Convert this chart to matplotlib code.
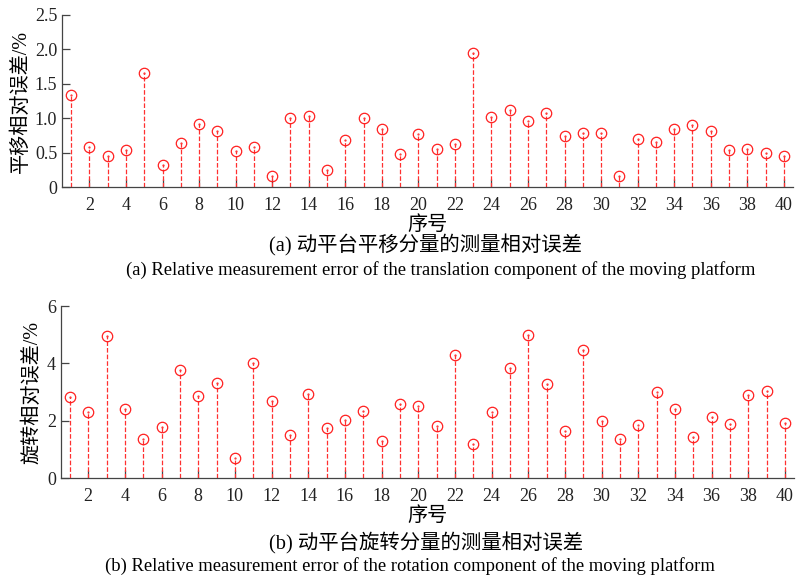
import matplotlib
matplotlib.use("Agg")
import matplotlib.pyplot as plt
import numpy as np

idx = list(range(1, 41))
trans_err = [1.33, 0.59, 0.45, 0.54, 1.65, 0.33, 0.64, 0.91, 0.82, 0.52,
             0.58, 0.17, 1.01, 1.04, 0.25, 0.69, 1.00, 0.84, 0.48, 0.77,
             0.555, 0.63, 1.94, 1.02, 1.12, 0.96, 1.08, 0.75, 0.78, 0.78,
             0.16, 0.70, 0.66, 0.84, 0.90, 0.82, 0.545, 0.56, 0.50, 0.45]
rot_err = [2.82, 2.32, 4.94, 2.42, 1.38, 1.80, 3.76, 2.86, 3.32, 0.70,
           4.00, 2.69, 1.50, 2.94, 1.75, 2.04, 2.34, 1.30, 2.60, 2.53,
           1.82, 4.29, 1.20, 2.32, 3.84, 4.98, 3.28, 1.64, 4.47, 2.00,
           1.37, 1.85, 2.99, 2.40, 1.45, 2.12, 1.88, 2.90, 3.03, 1.94]
xticks = list(range(2, 41, 2))
top_yticks = [0, 0.5, 1.0, 1.5, 2.0, 2.5]
top_ylabels = ["0", "0.5", "1.0", "1.5", "2.0", "2.5"]
bot_yticks = [0, 2, 4, 6]
bot_ylabels = ["0", "2", "4", "6"]

FAM = ["Liberation Serif", "Noto Sans CJK SC"]
CJK = ["Noto Sans CJK SC", "Liberation Serif"]
plt.rcParams["font.family"] = FAM

fig = plt.figure(figsize=(7.96, 5.8), dpi=100)
ax1 = fig.add_axes([0.0779, 0.677, 0.9183, 0.2977])
ax2 = fig.add_axes([0.0763, 0.1753, 0.9212, 0.2971])

spine_col = "#444444"

def draw(ax, vals, yt, yl, ylim, ylabel):
    ml, sl, bl = ax.stem(idx, vals, linefmt="r--", markerfmt="o", basefmt=" ")
    ml.set_markerfacecolor("none")
    ml.set_markeredgecolor("#ff2020")
    ml.set_markersize(7.5)
    ml.set_markeredgewidth(0.9)
    sl.set_linewidth(0.9)
    sl.set_color("#ff3030")
    ax.plot(idx, vals, linestyle="none", marker=".", markersize=1.2, color="#ff3030")
    ax.set_xlim(0.5, 40.5)
    ax.set_ylim(*ylim)
    ax.set_xticks(xticks)
    ax.set_yticks(yt)
    ax.set_yticklabels(yl)
    for s in ["top", "right"]:
        ax.spines[s].set_visible(False)
    for s in ["left", "bottom"]:
        ax.spines[s].set_color(spine_col)
        ax.spines[s].set_linewidth(0.9)
    ax.tick_params(direction="in", length=6, width=0.9, color=spine_col,
                   labelsize=13, labelcolor="#222222")
    ax.tick_params(axis="x", pad=7)
    ax.set_ylabel(ylabel, fontsize=14.5, family=FAM, labelpad=3)
    ax.set_xlabel("序号", fontsize=14.5, family=CJK, labelpad=0)

draw(ax1, trans_err, top_yticks, top_ylabels, (0, 2.5), "平移相对误差/%")
draw(ax2, rot_err, bot_yticks, bot_ylabels, (0, 6), "旋转相对误差/%")

fig.text(0.535, 1 - 245 / 580, "(a) 动平台平移分量的测量相对误差", ha="center", va="center",
         fontsize=14.7, family=FAM)
fig.text(0.553, 1 - 270 / 580, "(a) Relative measurement error of the translation component of the moving platform",
         ha="center", va="center", fontsize=13.4, family=FAM)
fig.text(0.535, 1 - 543 / 580, "(b) 动平台旋转分量的测量相对误差", ha="center", va="center",
         fontsize=14.7, family=FAM)
fig.text(0.515, 1 - 566 / 580, "(b) Relative measurement error of the rotation component of the moving platform",
         ha="center", va="center", fontsize=13.4, family=FAM)

fig.savefig("out.png", dpi=100)
